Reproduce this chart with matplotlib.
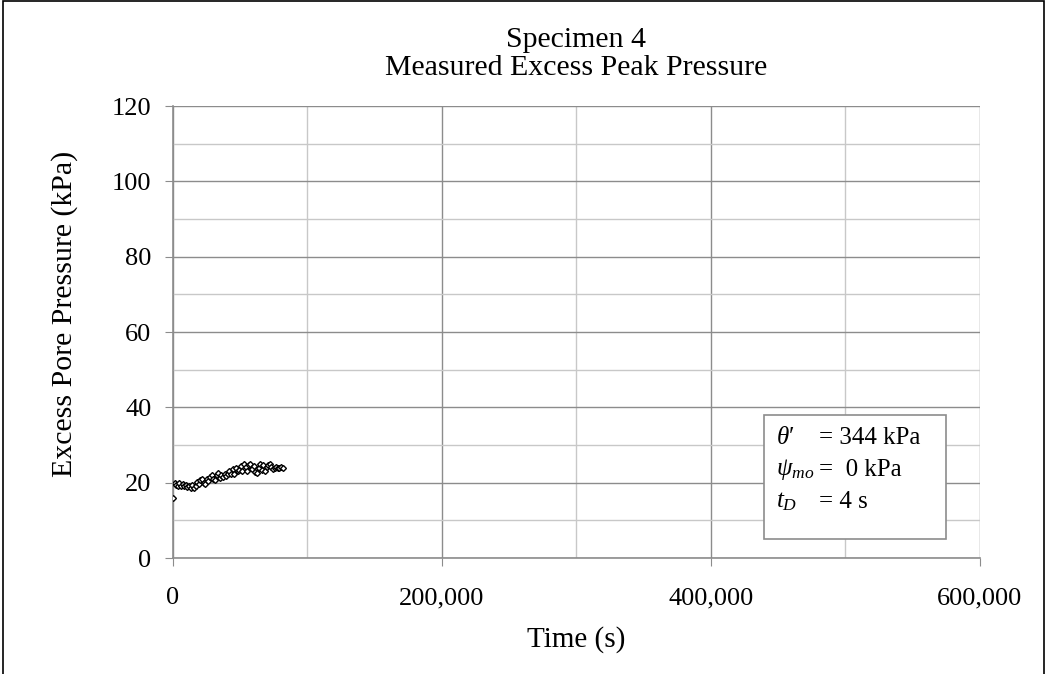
import matplotlib
matplotlib.use("Agg")
import matplotlib.pyplot as plt
from matplotlib.patches import Rectangle
from matplotlib.ticker import FuncFormatter, MultipleLocator

plt.rcParams["font.family"] = ["Liberation Serif", "DejaVu Serif"]
plt.rcParams["mathtext.fontset"] = "custom"
plt.rcParams["mathtext.rm"] = "Liberation Serif"
plt.rcParams["mathtext.it"] = "Liberation Serif:italic"

# measured excess peak pore pressure, specimen 4
time_s = [0, 1200, 2400, 3600, 4800, 6000, 7200, 8400, 9600, 10800,
          12000, 13200, 14400, 15600, 16800, 18000, 19200, 20400, 21600, 22800,
          24000, 25200, 26400, 27600, 28800, 30000, 31200, 32400, 33600, 34800,
          36000, 37200, 38400, 39600, 40800, 42000, 43200, 44400, 45600, 46800,
          48000, 49200, 50400, 51600, 52800, 54000, 55200, 56400, 57600, 58800,
          60000, 61200, 62400, 63600, 64800, 66000, 67200, 68400, 69600, 70800,
          72000, 73200, 74400, 75600, 76800, 78000, 79200, 80400, 81600]
pressure_kpa = [16.0, 20.0, 19.5, 19.0, 19.8, 19.2, 19.6, 19.0, 19.4, 18.8,
                19.2, 18.5, 19.4, 18.6, 19.2, 20.2, 19.6, 20.6, 21.0, 20.0,
                19.6, 21.0, 20.4, 21.6, 22.0, 21.0, 20.6, 22.0, 22.6, 21.2,
                22.0, 21.6, 22.4, 21.8, 22.2, 23.0, 22.4, 23.6, 22.2, 24.0,
                23.0, 23.4, 24.4, 23.2, 25.0, 24.2, 23.0, 24.6, 25.0, 23.6,
                24.4, 22.8, 22.6, 24.0, 25.0, 23.4, 24.6, 23.2, 24.2, 24.8,
                25.0, 24.2, 23.6, 24.0, 24.2, 23.8, 24.0, 24.2, 24.0]

fig = plt.figure(figsize=(10.47, 6.74), dpi=100)
ax = fig.add_axes([0.1652, 0.1721, 0.7708, 0.6706])

ax.plot(time_s, pressure_kpa, linestyle="none", marker="D", markersize=3.0,
        markerfacecolor="white", markeredgecolor="black", markeredgewidth=1.0,
        zorder=3)

ax.set_xlim(0, 600000)
ax.set_ylim(0, 120)
ax.xaxis.set_major_locator(MultipleLocator(200000))
ax.xaxis.set_minor_locator(MultipleLocator(100000))
ax.yaxis.set_major_locator(MultipleLocator(20))
ax.yaxis.set_minor_locator(MultipleLocator(10))
ax.xaxis.set_major_formatter(FuncFormatter(lambda v, p: f"{int(v):,}"))

ax.grid(which="major", color="#8c8c8c", linewidth=1.0)
ax.grid(which="minor", color="#c8c8c8", linewidth=1.0)
ax.set_axisbelow(True)
for side in ["top", "right"]:
    ax.spines[side].set_visible(False)
for side in ["left", "bottom"]:
    ax.spines[side].set_color("#8c8c8c")
    ax.spines[side].set_linewidth(1.2)
ax.tick_params(which="major", length=6, color="#8c8c8c", labelsize=19)
ax.tick_params(which="minor", length=0)
ax.tick_params(axis="y", pad=9.5)
ax.tick_params(axis="x", pad=15)

ax.set_xlabel("Time (s)", fontsize=21, labelpad=12)
ax.set_ylabel("Excess Pore Pressure (kPa)", fontsize=21.5)
ax.yaxis.set_label_coords(-0.118, 0.54)
ax.set_title("Specimen 4\nMeasured Excess Peak Pressure", fontsize=21.5,
             linespacing=1.1, pad=22)

# parameter box
box = Rectangle((0.7326, 0.0419), 0.2255, 0.2751, transform=ax.transAxes,
                facecolor="white", edgecolor="#8c8c8c", linewidth=1.2, zorder=4)
ax.add_patch(box)
labels = [r"$\theta$′", r"$\psi_{mo}$", r"$t_D$"]
values = ["= 344 kPa", "=  0 kPa", "= 4 s"]
ys = [0.265, 0.195, 0.124]
for lab, val, y in zip(labels, values, ys):
    ax.text(0.7475, y, lab, transform=ax.transAxes, fontsize=18,
            va="center", zorder=5)
    ax.text(0.800, y, val, transform=ax.transAxes, fontsize=18,
            va="center", zorder=5)

fig.add_artist(Rectangle((0.003, -0.01), 0.994, 1.008, transform=fig.transFigure,
                         fill=False, edgecolor="black", linewidth=1.2))

fig.savefig("out.png", dpi=100)
